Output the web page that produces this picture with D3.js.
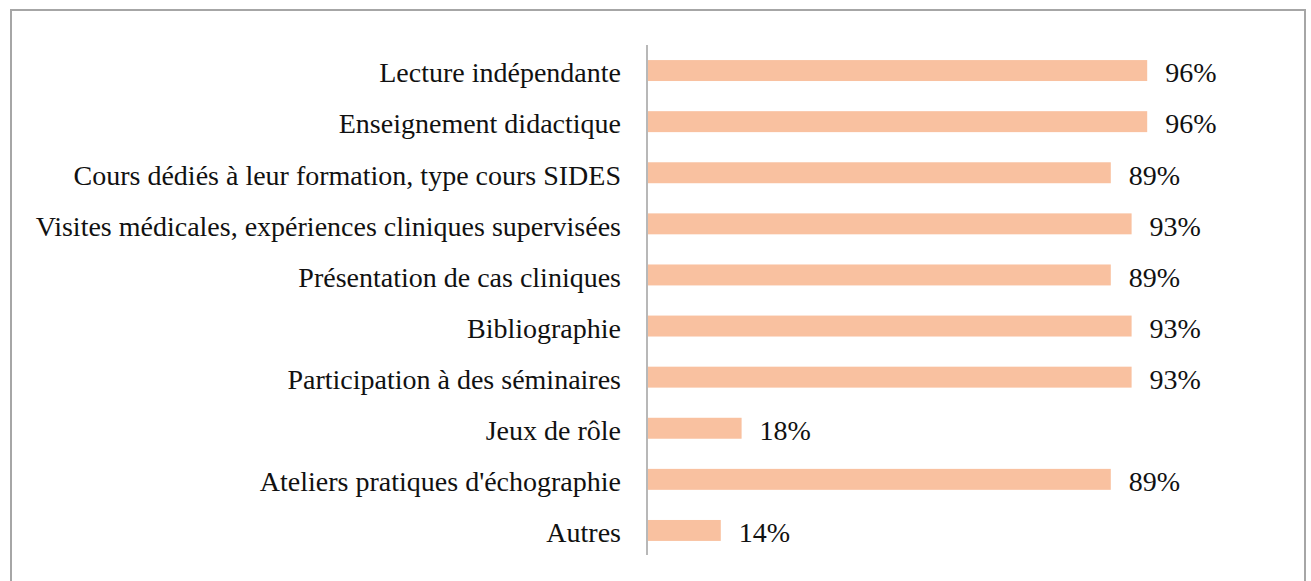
<!DOCTYPE html>
<html>
<head>
<meta charset="utf-8">
<script src="https://cdn.jsdelivr.net/npm/d3@7"></script>
<style>
  body { margin: 0; background: #fff; }
</style>
</head>
<body>
<script>
// horizontal bar chart
var w = 1311;
var h = 581;

var categories = ["Lecture indépendante", "Enseignement didactique",
  "Cours dédiés à leur formation, type cours SIDES",
  "Visites médicales, expériences cliniques supervisées",
  "Présentation de cas cliniques", "Bibliographie",
  "Participation à des séminaires", "Jeux de rôle",
  "Ateliers pratiques d'échographie", "Autres"];
var values = [96, 96, 89, 93, 89, 93, 93, 18, 89, 14];
var valueLabels = ["96%", "96%", "89%", "93%", "89%", "93%", "93%", "18%", "89%", "14%"];

var svg = d3.select("body").append("svg")
  .attr("width", w)
  .attr("height", h);

// cadre
svg.append("rect")
  .attr("x", 11).attr("y", 10)
  .attr("width", 1294).attr("height", 590)
  .attr("fill", "none")
  .attr("stroke", "#a6a6a6")
  .attr("stroke-width", 2);

var x = d3.scaleLinear().domain([0, 100]).range([648, 1168]);
var y = d3.scaleBand().domain(categories).range([45, 556])
  .paddingInner(0.59).paddingOuter(0.295);

svg.selectAll("rect.bar")
  .data(values)
  .enter()
  .append("rect")
  .attr("class", "bar")
  .attr("x", x(0))
  .attr("y", function(d, i) { return y(categories[i]); })
  .attr("width", function(d) { return x(d) - x(0); })
  .attr("height", y.bandwidth())
  .attr("fill", "#f9c1a0");

// axe vertical
var yAxis = svg.append("g")
  .attr("transform", "translate(647,0)")
  .call(d3.axisLeft(y).tickSize(0).tickPadding(26).tickSizeOuter(0));
yAxis.select(".domain")
  .attr("stroke", "#a0a0a0")
  .attr("stroke-width", 1.5)
  .attr("d", "M0,45V555");
yAxis.selectAll("text")
  .attr("font-family", "'Liberation Serif', serif")
  .attr("font-size", 28)
  .attr("fill", "#111")
  .attr("dy", "0.42em");

// étiquettes
svg.selectAll("text.val")
  .data(values)
  .enter()
  .append("text")
  .attr("class", "val")
  .text(function(d, i) { return valueLabels[i]; })
  .attr("x", function(d) { return x(d) + 18; })
  .attr("y", function(d, i) { return y(categories[i]) + y.bandwidth() / 2; })
  .attr("dy", "0.42em")
  .attr("font-family", "'Liberation Serif', serif")
  .attr("font-size", 28)
  .attr("fill", "#111");
</script>
</body>
</html>
